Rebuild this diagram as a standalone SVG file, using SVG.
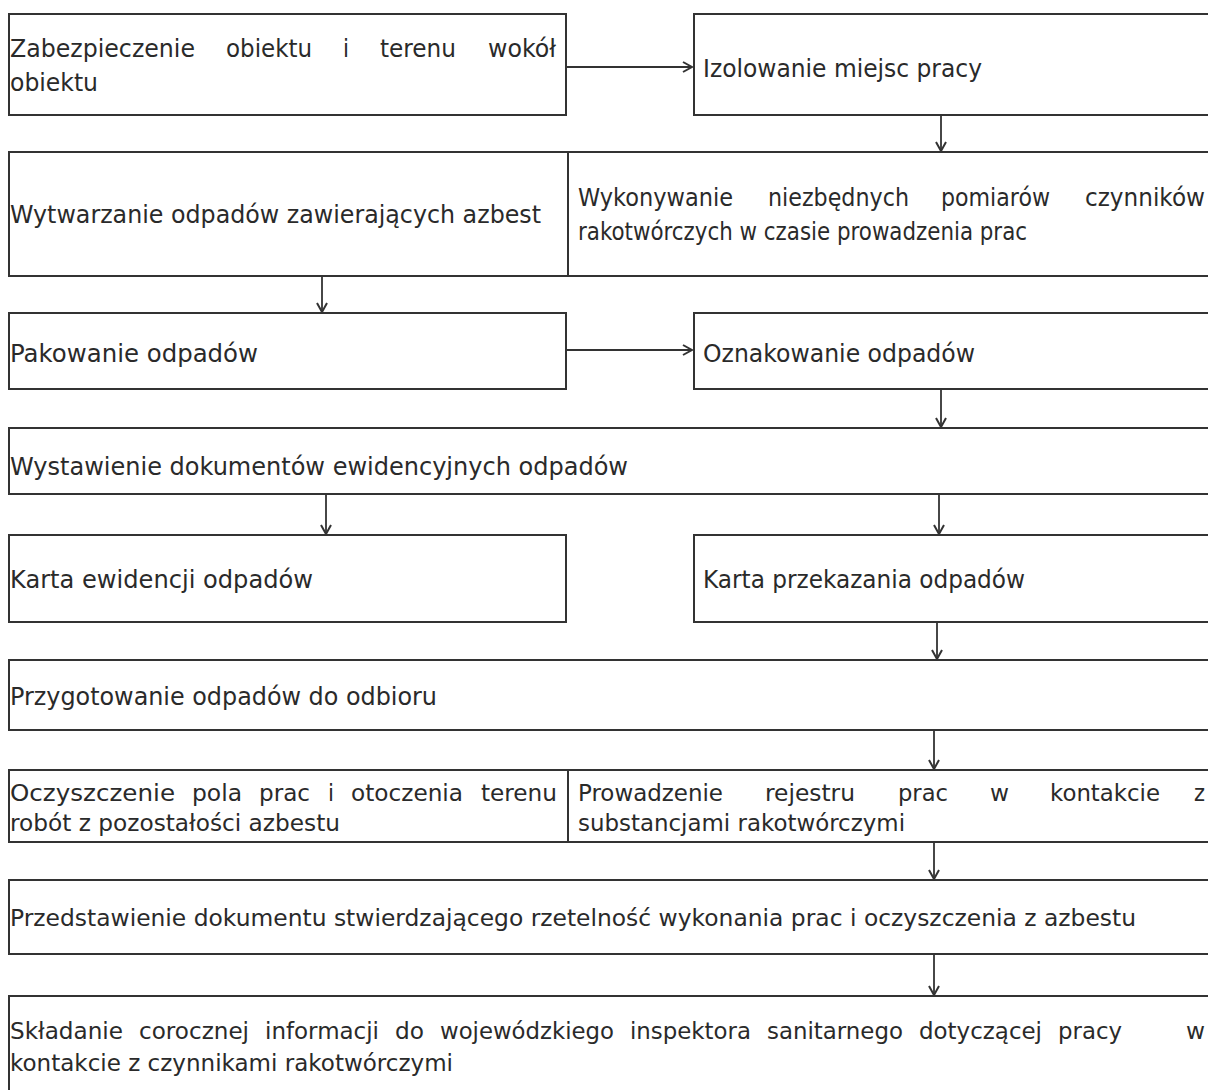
<svg xmlns="http://www.w3.org/2000/svg" width="1208" height="1090" viewBox="0 0 1208 1090">
<style>
.box{fill:#fff;stroke:#333;stroke-width:2}
.t{font-family:"DejaVu Sans","Liberation Sans",sans-serif;font-size:24px;fill:#2a2a2a}
.s{font-size:23px}
.c{stroke:#333;stroke-width:1.8;fill:none}
</style>
<defs>
<marker id="ah" markerWidth="12" markerHeight="12" refX="10" refY="6" orient="auto" markerUnits="userSpaceOnUse">
<path d="M1,1 L10,6 L1,11" fill="none" stroke="#333" stroke-width="2"/>
</marker>
</defs>
<rect width="1208" height="1090" fill="#fff"/>
<g id="n1"><rect class="box" x="9" y="14" width="557" height="101"/>
<text class="t" y="57"><tspan x="10" textLength="185" lengthAdjust="spacingAndGlyphs">Zabezpieczenie</tspan><tspan x="226" textLength="86" lengthAdjust="spacingAndGlyphs">obiektu</tspan><tspan x="343" textLength="6" lengthAdjust="spacingAndGlyphs">i</tspan><tspan x="380" textLength="76" lengthAdjust="spacingAndGlyphs">terenu</tspan><tspan x="488" textLength="68" lengthAdjust="spacingAndGlyphs">wokół</tspan></text>
<text class="t" x="10" y="91" textLength="88" lengthAdjust="spacingAndGlyphs">obiektu</text></g>
<g id="n2"><rect class="box" x="694" y="14" width="520" height="101"/>
<text class="t" x="703" y="77" textLength="279" lengthAdjust="spacingAndGlyphs">Izolowanie miejsc pracy</text></g>
<g id="n3"><rect class="box" x="9" y="152" width="559" height="124"/>
<text class="t" x="10" y="223" textLength="531" lengthAdjust="spacingAndGlyphs">Wytwarzanie odpadów zawierających azbest</text></g>
<g id="n4"><rect class="box" x="568" y="152" width="646" height="124"/>
<text class="t" y="206"><tspan x="578" textLength="155" lengthAdjust="spacingAndGlyphs">Wykonywanie</tspan><tspan x="768" textLength="141" lengthAdjust="spacingAndGlyphs">niezbędnych</tspan><tspan x="941" textLength="109" lengthAdjust="spacingAndGlyphs">pomiarów</tspan><tspan x="1085" textLength="120" lengthAdjust="spacingAndGlyphs">czynników</tspan></text>
<text class="t" x="578" y="240" textLength="449" lengthAdjust="spacingAndGlyphs">rakotwórczych w czasie prowadzenia prac</text></g>
<g id="n5"><rect class="box" x="9" y="313" width="557" height="76"/>
<text class="t" x="10" y="362" textLength="248" lengthAdjust="spacingAndGlyphs">Pakowanie odpadów</text></g>
<g id="n6"><rect class="box" x="694" y="313" width="520" height="76"/>
<text class="t" x="703" y="362" textLength="272" lengthAdjust="spacingAndGlyphs">Oznakowanie odpadów</text></g>
<g id="n7"><rect class="box" x="9" y="428" width="1205" height="66"/>
<text class="t" x="10" y="475" textLength="618" lengthAdjust="spacingAndGlyphs">Wystawienie dokumentów ewidencyjnych odpadów</text></g>
<g id="n8"><rect class="box" x="9" y="535" width="557" height="87"/>
<text class="t" x="10" y="588" textLength="303" lengthAdjust="spacingAndGlyphs">Karta ewidencji odpadów</text></g>
<g id="n9"><rect class="box" x="694" y="535" width="520" height="87"/>
<text class="t" x="703" y="588" textLength="322" lengthAdjust="spacingAndGlyphs">Karta przekazania odpadów</text></g>
<g id="n10"><rect class="box" x="9" y="660" width="1205" height="70"/>
<text class="t" x="10" y="705" textLength="427" lengthAdjust="spacingAndGlyphs">Przygotowanie odpadów do odbioru</text></g>
<g id="n11"><rect class="box" x="9" y="770" width="559" height="72"/>
<text class="t s" y="801"><tspan x="10" textLength="165" lengthAdjust="spacingAndGlyphs">Oczyszczenie</tspan><tspan x="192" textLength="50" lengthAdjust="spacingAndGlyphs">pola</tspan><tspan x="259" textLength="51" lengthAdjust="spacingAndGlyphs">prac</tspan><tspan x="328" textLength="6" lengthAdjust="spacingAndGlyphs">i</tspan><tspan x="351" textLength="112" lengthAdjust="spacingAndGlyphs">otoczenia</tspan><tspan x="481" textLength="76" lengthAdjust="spacingAndGlyphs">terenu</tspan></text>
<text class="t s" x="10" y="831" textLength="330" lengthAdjust="spacingAndGlyphs">robót z pozostałości azbestu</text></g>
<g id="n12"><rect class="box" x="568" y="770" width="646" height="72"/>
<text class="t s" y="801"><tspan x="578" textLength="145" lengthAdjust="spacingAndGlyphs">Prowadzenie</tspan><tspan x="765" textLength="90" lengthAdjust="spacingAndGlyphs">rejestru</tspan><tspan x="898" textLength="50" lengthAdjust="spacingAndGlyphs">prac</tspan><tspan x="990" textLength="19" lengthAdjust="spacingAndGlyphs">w</tspan><tspan x="1050" textLength="110" lengthAdjust="spacingAndGlyphs">kontakcie</tspan><tspan x="1194" textLength="11" lengthAdjust="spacingAndGlyphs">z</tspan></text>
<text class="t s" x="578" y="831" textLength="327" lengthAdjust="spacingAndGlyphs">substancjami rakotwórczymi</text></g>
<g id="n13"><rect class="box" x="9" y="880" width="1205" height="74"/>
<text class="t" x="10" y="926" style="font-size:23px" textLength="1126" lengthAdjust="spacingAndGlyphs">Przedstawienie dokumentu stwierdzającego rzetelność wykonania prac i oczyszczenia z azbestu</text></g>
<g id="n14"><rect class="box" x="9" y="996" width="1205" height="100"/>
<text class="t s" y="1039"><tspan x="10" textLength="113" lengthAdjust="spacingAndGlyphs">Składanie</tspan><tspan x="139" textLength="110" lengthAdjust="spacingAndGlyphs">corocznej</tspan><tspan x="265" textLength="114" lengthAdjust="spacingAndGlyphs">informacji</tspan><tspan x="395" textLength="29" lengthAdjust="spacingAndGlyphs">do</tspan><tspan x="440" textLength="174" lengthAdjust="spacingAndGlyphs">wojewódzkiego</tspan><tspan x="630" textLength="121" lengthAdjust="spacingAndGlyphs">inspektora</tspan><tspan x="767" textLength="136" lengthAdjust="spacingAndGlyphs">sanitarnego</tspan><tspan x="919" textLength="123" lengthAdjust="spacingAndGlyphs">dotyczącej</tspan><tspan x="1058" textLength="64" lengthAdjust="spacingAndGlyphs">pracy</tspan><tspan x="1186" textLength="19" lengthAdjust="spacingAndGlyphs">w</tspan></text>
<text class="t s" x="10" y="1071" textLength="443" lengthAdjust="spacingAndGlyphs">kontakcie z czynnikami rakotwórczymi</text></g>
<g id="connectors">
<line class="c" x1="566" y1="67" x2="692" y2="67" marker-end="url(#ah)"/>
<line class="c" x1="941" y1="115" x2="941" y2="151" marker-end="url(#ah)"/>
<line class="c" x1="322" y1="276" x2="322" y2="312" marker-end="url(#ah)"/>
<line class="c" x1="566" y1="350" x2="692" y2="350" marker-end="url(#ah)"/>
<line class="c" x1="941" y1="389" x2="941" y2="427" marker-end="url(#ah)"/>
<line class="c" x1="326" y1="494" x2="326" y2="534" marker-end="url(#ah)"/>
<line class="c" x1="939" y1="494" x2="939" y2="534" marker-end="url(#ah)"/>
<line class="c" x1="937" y1="622" x2="937" y2="659" marker-end="url(#ah)"/>
<line class="c" x1="934" y1="730" x2="934" y2="769" marker-end="url(#ah)"/>
<line class="c" x1="934" y1="842" x2="934" y2="879" marker-end="url(#ah)"/>
<line class="c" x1="934" y1="954" x2="934" y2="995" marker-end="url(#ah)"/>
</g>
</svg>
